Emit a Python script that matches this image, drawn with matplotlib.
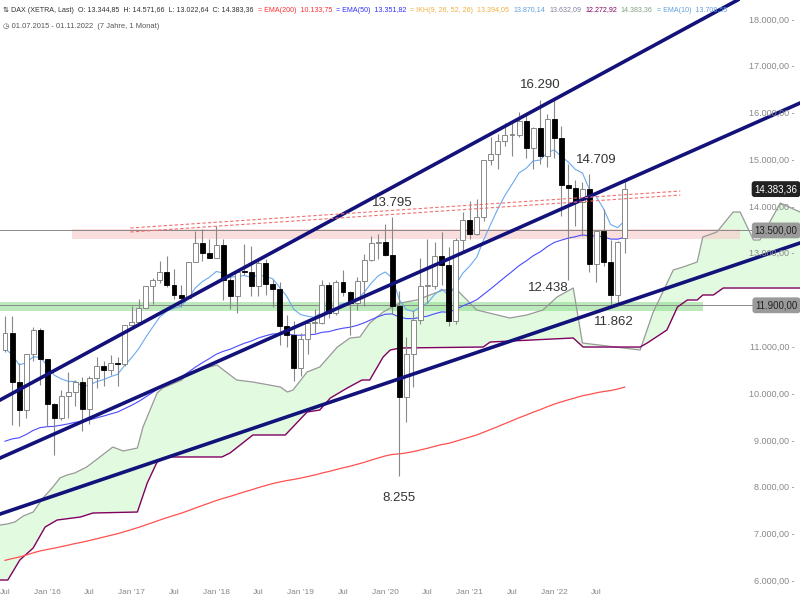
import matplotlib
matplotlib.use("Agg")
import matplotlib.pyplot as plt
import matplotlib.transforms as mtransforms
import numpy as np

plt.rcParams['font.family'] = ['Liberation Sans', 'DejaVu Sans']

# Monthly OHLC, Jul 2015 .. Nov 2022 (index 0 = Jul 2015)
opens = [10945,11309,10259,9660,10850,11382,10743,9798,9495,9965,10039,10263,9680,10337,10592,10511,10665,10640,
         11481,11535,11834,12313,12438,12615,12325,12118,12056,12829,13230,13024,
         12918,13189,12436,12097,12612,12605,12306,12806,12364,12247,11447,11257,
         10559,11173,11516,11526,12344,11727,12399,12189,11939,12428,12867,13236,
         13249,12982,11890,9936,10862,11587,12311,12313,12945,12761,11556,13291,
         13719,13433,13786,15008,15136,15421,15531,15544,15835,15261,15688,15100,
         15885,15471,14461,14415,14098,14388,12784,13484,12835,12114,13345]
highs = [11670,11670,10670,10850,11431,11424,10743,9820,10100,10475,10300,10370,10390,10800,10720,10827,10800,11482,
         11893,12031,12313,12486,12841,12952,12676,12323,12830,13478,13526,13314,
         13597,13310,12600,12640,13204,13170,12860,12887,12460,12390,11700,11566,
         11300,11559,11823,12450,12400,12438,12656,12200,12494,12990,13374,13425,
         13640,13795,12200,11231,11800,12913,13314,13261,13460,13149,13336,13903,
         14131,14169,15008,15502,15568,15803,15810,16030,16017,15700,16290,15985,
         16285,15736,14925,14567,14526,14709,13400,13948,13300,13264,14572]
lows = [10900,9338,9325,9500,10720,10200,9315,8699,9440,9485,9737,9214,9373,10130,10170,10400,10174,10600,
        11386,11470,11850,11937,12370,12300,12040,11868,12080,12850,12847,12916,
        12900,12003,11831,11726,12540,12100,12104,12113,11865,11050,11009,10279,
        10386,10864,11300,11500,11620,11700,12100,11266,11800,11880,12854,12886,
        12948,11724,8255,9400,10160,11500,11948,12253,12340,11450,11500,13018,
        13310,13400,13700,14900,14816,15300,15100,15500,15050,14819,14927,14860,
        15050,13808,12438,13600,13380,12618,12390,12730,11862,11900,13022]
closes = [11309,10259,9660,10850,11382,10743,9798,9495,9965,10039,10263,9680,10337,10592,10511,10665,10640,11481,
          11535,11834,12313,12438,12615,12325,12118,12056,12829,13230,13024,12918,
          13189,12436,12097,12612,12605,12306,12806,12364,12247,11447,11257,10559,
          11173,11516,11526,12344,11727,12399,12189,11939,12428,12867,13236,13249,
          12982,11890,9936,10862,11587,12311,12313,12945,12761,11556,13291,13719,
          13433,13786,15008,15136,15421,15531,15544,15835,15261,15688,15100,15885,
          15471,14461,14415,14098,14388,12784,13484,12835,12114,13253,14383]

# EMA start values (history before Jul 2015 not shown)
ema_seeds = {200: 6400, 50: 8900, 10: 10900}

# Ichimoku cloud (shifted), month index -> value
spanA_x = [-0.7,0.3,1.4,2.6,4.0,5.4,6.8,7.8,8.8,9.9,11.6,13.1,15.3,16.8,18.8,19.6,21.6,22.4,25.1,25.9,30.1,32.9,35.2,39.1,40.1,40.9,
           42.9,44.7,47.2,49.0,50.4,51.8,53.7,55.0,56.1,58.5,62.2,64.2,67.0,71.7,74.1,76.4,78.4,80.7,82.0,90.2,92.0,94.9,96.3,
           98.3,99.1,101.1,103.4,104.4,106.3,107.2,110.1,112.9]
spanA_y = [7204,7226,7269,7397,7482,7781,8016,8209,8273,8316,8444,8615,8871,8786,8850,9299,10025,10132,10303,10453,10624,10303,10260,
           10154,10047,10089,10474,10581,11008,11201,11222,11521,11756,11863,11948,12013,12226,12226,11799,11628,11692,11799,12077,
           12269,11094,10944,11735,12654,12718,12825,13359,13466,13893,13893,13295,13295,14085,13893]
spanB_x = [-0.7,0.4,2.1,4.0,5.7,7.4,10.7,12.5,18.8,20.2,21.6,23.0,30.8,31.95,35.2,39.8,42.9,44.7,46.2,48.6,50.7,51.8,53.7,54.7,56.1,
           67.9,68.9,80.7,82.1,90.2,91.2,94.0,95.5,96.9,98.3,99.1,100.6,102.0,112.9]
spanB_y = [6029,6029,6456,6713,7162,7311,7375,7461,7482,8102,8551,8658,8658,8743,9128,9128,9619,9662,9918,10132,10303,10303,10795,
           10944,10987,11008,11115,11201,11008,11008,11094,11372,11863,12013,12013,12120,12120,12269,12269]

# Trend lines (two points each) and levels
trend_lines = [((-0.7, 9876), (83.1, 16714)), ((-0.7, 8636), (112.9, 16222)), ((-0.7, 7439), (112.9, 13231))]
red_lines = [((17.8, 13466), (95.9, 14256)), ((17.8, 13551), (95.9, 14341))]
levels = [13500, 11900]
# label text, anchor month, anchor value, vertical offset (pt)
marks = [("16.290", 76, 16290, 11), ("14.709", 84, 14709, 10), ("13.795", 55, 13795, 10),
         ("12.438", 77.2, 12438, -6), ("11.862", 86.5, 11862, -11), ("8.255", 56, 8255, -16)]

def de(v):
    return f"{v:,.2f}".replace(',', 'X').replace('.', ',').replace('X', '.')

def ema(vals, n, seed):
    a = 2 / (n + 1)
    out, e = [], seed
    for v in vals:
        e = e + a * (v - e)
        out.append(e)
    return out

fig = plt.figure(figsize=(8, 6), dpi=100)
ax = fig.add_axes([0, 14/600, 1, 1 - 14/600])
ax.set_xlim(-0.71, 112.9)
ax.set_ylim(5901, 18424)
for s in ax.spines.values():
    s.set_visible(False)
ax.set_yticks([])

x = np.arange(len(closes))
ax.fill(list(spanA_x) + list(spanB_x[::-1]), list(spanA_y) + list(spanB_y[::-1]), color='#e2fbe0', zorder=1, lw=0)
ax.plot(spanA_x, spanA_y, color='#999999', lw=0.9, zorder=2)
ax.plot(spanB_x, spanB_y, color='#800060', lw=1.0, zorder=2)

ax.fill_between([9.5, 104.4], 13320, 13530, color='#f8d0d0', alpha=0.7, zorder=1, lw=0)
ax.fill_between([-0.71, 99.1], 11780, 11975, color='#90dd90', alpha=0.6, zorder=1, lw=0)
for lv in levels:
    ax.axhline(lv, color='#888888', lw=0.7, zorder=1)

ax.plot(x, ema(closes, 200, ema_seeds[200]), color='#ff5050', lw=0.9, zorder=3)
ax.plot(x, ema(closes, 50, ema_seeds[50]), color='#4a4aff', lw=0.8, zorder=3)
ax.plot(x, ema(closes, 10, ema_seeds[10]), color='#6aaaf0', lw=0.8, zorder=3)

for i in range(len(closes)):
    o, h, l, c = opens[i], highs[i], lows[i], closes[i]
    ax.vlines(i, l, h, color='#888888', lw=0.8, zorder=4)
    up = c >= o
    ax.bar(i, max(abs(c - o), 20), bottom=min(o, c), width=0.7,
           color='white' if up else 'black', edgecolor='#777777' if up else 'black', lw=0.6, zorder=5)

for p1, p2 in trend_lines:
    ax.axline(p1, p2, color='#12127a', lw=2.6, zorder=6)
for p1, p2 in red_lines:
    ax.plot([p1[0], p2[0]], [p1[1], p2[1]], color='#f07070', lw=0.8, ls=(0, (3, 2)), zorder=6)

for t, mx, my, off in marks:
    ax.annotate(t, (mx, my), xytext=(0, off), textcoords='offset points', ha='center', va='center',
                fontsize=9.5, color='#333333', zorder=8)

tr = mtransforms.blended_transform_factory(ax.transAxes, ax.transData)
for v in range(6000, 18001, 1000):
    if any(abs(v - lv) < 150 for lv in levels):
        continue
    ax.text(0.993, v, de(v) + " -", transform=tr, ha='right', va='center', fontsize=6.5, color='#888888', zorder=7)
ax.text(0.997, closes[-1], de(14383.36), transform=tr, ha='right', va='center', fontsize=7, color='white', zorder=9,
        bbox=dict(boxstyle='round,pad=0.3', fc='#222222', ec='none'))
for lv in levels:
    ax.text(0.997, lv, de(lv), transform=tr, ha='right', va='center', fontsize=7, color='#222222', zorder=9,
            bbox=dict(boxstyle='round,pad=0.3', fc='#9a9a9a', ec='none'))

ax.set_xticks([])
for k in range(0, 89, 6):
    yr = 2015 + (k + 6) // 12
    lab = "Jul" if k % 12 == 0 else f"Jan '{yr % 100:02d}"
    fig.text((k + 0.71) / 113.61, 7/600, lab, ha='center', va='center', fontsize=6, color='#888888')

# header, pieces chained left to right
header = [("⇅ DAX (XETRA, Last)  O: 13.344,85  H: 14.571,66  L: 13.022,64  C: 14.383,36", '#333333'),
          ("= EMA(200)  10.133,75", '#ff3030'), ("= EMA(50)  13.351,82", '#3030ff'),
          ("= IKH(9, 26, 52, 26)  13.394,05", '#f0b040'), ("13.870,14", '#60a0e0'), ("13.632,09", '#8080a0'),
          ("12.272,92", '#800060'), ("14.383,36", '#80a080'), ("= EMA(10)  13.708,55", '#60a0e0')]
rend = fig.canvas.get_renderer()
px = 3
for s, c in header:
    t = fig.text(px/800, 1 - 10/600, s, fontsize=5.1, color=c, va='center', ha='left')
    px = t.get_window_extent(rend).x1 + 4
fig.text(3/800, 1 - 26/600, "◷ 01.07.2015 - 01.11.2022  (7 Jahre, 1 Monat)", fontsize=5.4, color='#555555', va='center')

fig.savefig("out.png", dpi=100)
